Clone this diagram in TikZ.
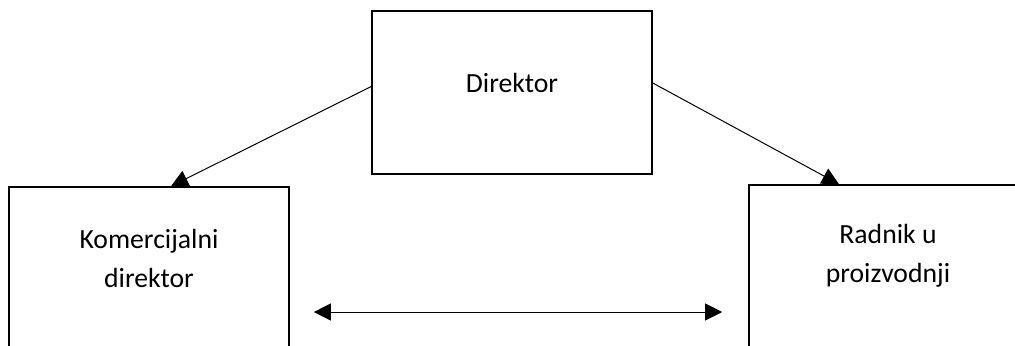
\documentclass[tikz,border=0pt]{standalone}
\usepackage{fontspec}
\setmainfont{Carlito}
\usetikzlibrary{arrows.meta}

\begin{document}
\begin{tikzpicture}[x=0.5pt, y=-0.5pt, b/.style={rectangle, draw, line width=.8pt, minimum width=140pt}, t/.style={font=\fontsize{13.85}{19.5}\selectfont, align=center, inner sep=0pt}, a/.style={line width=.5pt, -{Triangle[length=8.5pt, width=8.5pt]}}]
		\useasboundingbox (0,0) rectangle (1015,345);
		\node[b, minimum height=81.5pt] (dir) at (512,92.5) {};
		\node[t, anchor=base] (dir_label) at (512,92) {Direktor};
		\node[b, minimum height=100pt] (kom) at (149,287) {};
		\node[t] (kom_label) at (149,258) {Komercijalni\\direktor};
		\node[b, minimum height=100pt] (rad) at (889,285) {};
		\node[t] (rad_label) at (888,256) {Radnik u\\proizvodnji};


		\draw[a] ([yshift=3pt]dir.west) -- ([xshift=11pt]kom.north);
		\draw[a] ([yshift=4.75pt]dir.east) -- ([xshift=-25pt]rad.north);
		\draw[a, {Triangle[length=8.5pt, width=8.5pt]}-{Triangle[length=8.5pt, width=8.5pt]}] ([shift={(12pt,-12.5pt)}]kom.east) -- ([shift={(-13pt,-13.5pt)}]rad.west);
	\end{tikzpicture}
\end{document}
